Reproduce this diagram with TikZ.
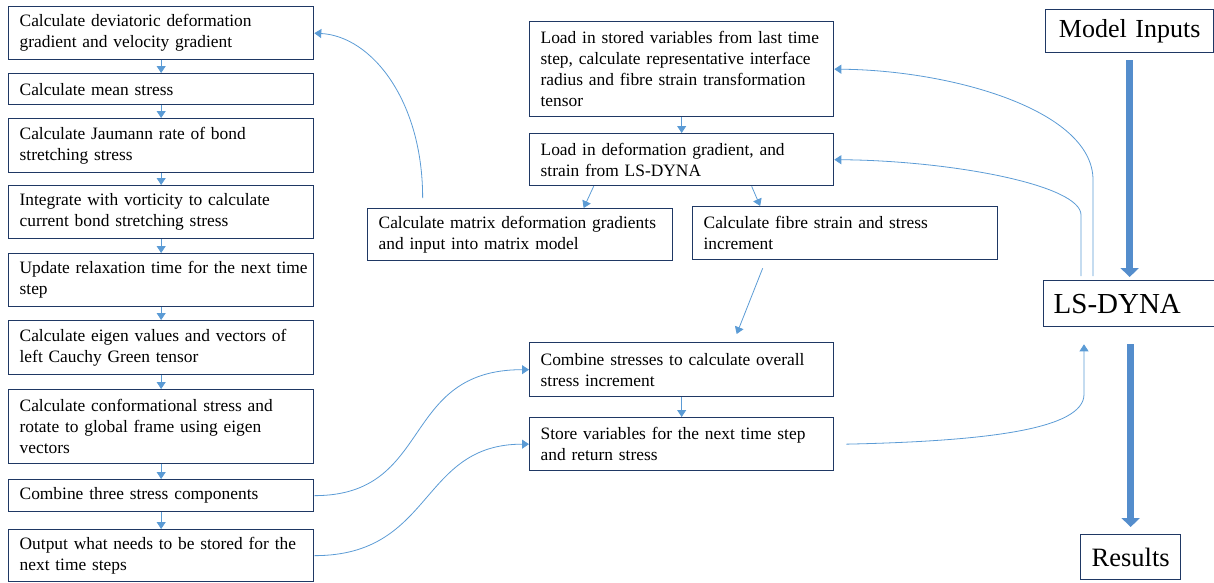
\documentclass[tikz,border=0pt]{standalone}
\usepackage{fontspec}
\setmainfont{Liberation Serif}
\usetikzlibrary{arrows.meta}
\definecolor{boxnavy}{RGB}{31,56,100}
\definecolor{linkblue}{RGB}{91,155,213}
\definecolor{fatblue}{RGB}{84,141,204}
\tikzset{
	stepbox/.style={draw=boxnavy,line width=1.3pt,fill=white,anchor=north west,
	  inner xsep=11pt,inner ysep=2pt,align=left,
	  font=\fontsize{17.4}{21}\selectfont},
	link/.style={draw=linkblue,line width=0.8pt,
	  -{Triangle[length=7pt,width=9pt]}},
	fatlink/.style={draw=fatblue,line width=7pt,
	  -{Triangle[length=9pt,width=18pt]}}
}
\begin{document}
\begin{tikzpicture}[x=1pt,y=-1pt]
	\useasboundingbox (0,0) rectangle (1214,582);
	% left column
	\node[stepbox,text width=283,minimum height=53] (dev) at (8,6)
	  {Calculate deviatoric deformation\\ gradient and velocity gradient};
	\node[stepbox,text width=283,minimum height=31] (mean) at (8,73)
	  {Calculate mean stress};
	\node[stepbox,text width=283,minimum height=54] (jau) at (8,118)
	  {Calculate Jaumann rate of bond\\ stretching stress};
	\node[stepbox,text width=283,minimum height=53] (vort) at (8,185)
	  {Integrate with vorticity to calculate\\ current bond stretching stress};
	\node[stepbox,text width=283,minimum height=53] (relax) at (8,253)
	  {\mbox{Update relaxation time for the next time}\\ step};
	\node[stepbox,text width=283,minimum height=54] (eig) at (8,320)
	  {Calculate eigen values and vectors of\\ left Cauchy Green tensor};
	\node[stepbox,text width=283,minimum height=74] (conf) at (8,389)
	  {Calculate conformational stress and\\ rotate to global frame using eigen\\ vectors};
	\node[stepbox,text width=283,minimum height=32] (comb) at (8,479)
	  {Combine three stress components};
	\node[stepbox,text width=283,minimum height=52] (outp) at (8,529)
	  {Output what needs to be stored for the\\ next time steps};
	% middle
	\node[stepbox,text width=282,minimum height=95] (load) at (529,21)
	  {Load in stored variables from last time\\ step, calculate representative interface\\ radius and fibre strain transformation\\ tensor};
	\node[stepbox,text width=282,minimum height=52] (defg) at (529,133)
	  {Load in deformation gradient, and\\ strain from LS-DYNA};
	\node[stepbox,text width=283,minimum height=52] (mat) at (367,208)
	  {Calculate matrix deformation gradients\\ and input into matrix model};
	\node[stepbox,text width=283,minimum height=53] (fib) at (692,206)
	  {Calculate fibre strain and stress\\ increment};
	\node[stepbox,text width=282,minimum height=54] (sum) at (529,342)
	  {Combine stresses to calculate overall\\ stress increment};
	\node[stepbox,text width=282,minimum height=53] (store) at (529,417)
	  {Store variables for the next time step\\ and return stress};
	% right
	\node[stepbox,font=\fontsize{26}{30}\selectfont,inner xsep=0pt,
	  text width=168,align=center,minimum height=43] (inp) at (1045,9)
	  {Model Inputs};
	\node[stepbox,font=\fontsize{29}{33}\selectfont,inner xsep=10pt,
	  text width=170,minimum height=46] (dyna) at (1043,280)
	  {LS-DYNA};
	\node[stepbox,font=\fontsize{26.5}{30}\selectfont,inner xsep=0pt,
	  text width=100,align=center,minimum height=45] (res) at (1080,534)
	  {Results};

	\foreach \a/\b in {dev/mean,mean/jau,jau/vort,vort/relax,relax/eig,
	  eig/conf,conf/comb,comb/outp,load/defg,sum/store}
	  \draw[link] (\a.south) -- (\b.north);
	\draw[link] ([xshift=-88pt]defg.south) -- ([xshift=63.5pt]mat.north);
	\draw[link] ([xshift=70pt]defg.south) -- ([xshift=-85pt]fib.north);
	\draw[link] ([xshift=-82.5pt,yshift=-8pt]fib.south)
	  -- ([xshift=55pt,yshift=8pt]sum.north);
	\draw[link] ([xshift=-97.5pt,yshift=10pt]mat.north)
	  .. controls +(0,-98) and +(57,3) .. (dev.east);
	\draw[link] (comb.east) .. controls +(120,0) and +(-130,0) .. (sum.west);
	\draw[link] (outp.east) .. controls +(120,0) and +(-110,0) .. (store.west);
	\draw[link] ([xshift=12pt]store.east)
	  .. controls +(140,-3) and +(0,35) .. ([xshift=41pt,yshift=-67pt]dyna.south west)
	  -- ([xshift=41pt,yshift=-17pt]dyna.south west);
	\draw[link] ([xshift=50pt,yshift=4pt]dyna.north west)
	  -- ([xshift=50pt,yshift=100pt]dyna.north west)
	  .. controls +(0,-70) and +(117,1) .. (load.east);
	\draw[link] ([xshift=38pt,yshift=4pt]dyna.north west)
	  -- ([xshift=38pt,yshift=65pt]dyna.north west)
	  .. controls +(0,-30) and +(117,1) .. (defg.east);
	\draw[fatlink,shorten <=7pt,shorten >=3pt] (inp.south) -- (inp.south |- dyna.north);
	\draw[fatlink,shorten <=17pt,shorten >=7pt] (res.north |- dyna.south) -- (res.north);
\end{tikzpicture}
\end{document}
